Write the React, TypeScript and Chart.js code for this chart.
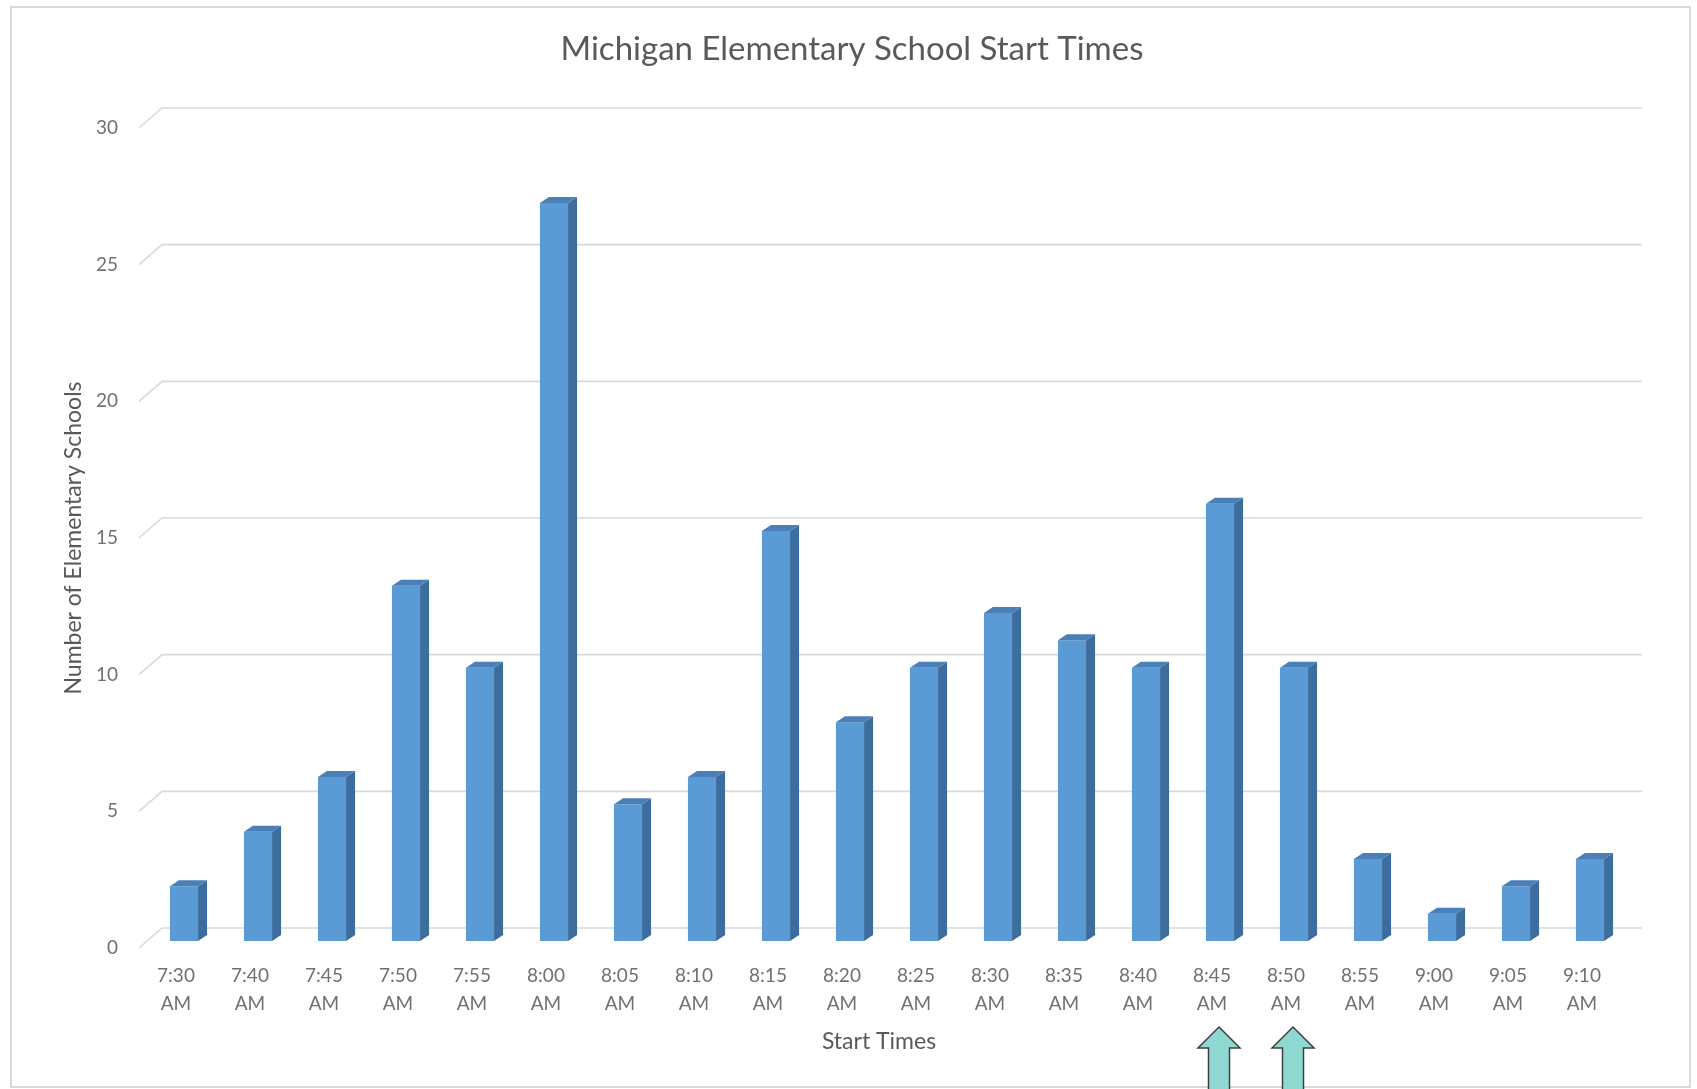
import React, { useEffect, useRef } from "react";
import { Chart, registerables } from "chart.js";

Chart.register(...registerables);

const startTimes = [
  "7:30 AM", "7:40 AM", "7:45 AM", "7:50 AM", "7:55 AM", "8:00 AM", "8:05 AM",
  "8:10 AM", "8:15 AM", "8:20 AM", "8:25 AM", "8:30 AM", "8:35 AM", "8:40 AM",
  "8:45 AM", "8:50 AM", "8:55 AM", "9:00 AM", "9:05 AM", "9:10 AM",
];
const schoolCounts = [2, 4, 6, 13, 10, 27, 5, 6, 15, 8, 10, 12, 11, 10, 16, 10, 3, 1, 2, 3];
const yTickValues = [0, 5, 10, 15, 20, 25, 30];
const highlightedTimes = ["8:45 AM", "8:50 AM"];

const chartTitle = "Michigan Elementary School Start Times";
const xTitle = "Start Times";
const yTitle = "Number of Elementary Schools";

const FONT = "Lato, 'Open Sans', sans-serif";

export default function App() {
  const ref = useRef<HTMLCanvasElement>(null);

  useEffect(() => {
    document.body.style.margin = "0";
    document.body.style.overflow = "hidden";
    const canvas = ref.current;
    if (!canvas) return;

    const floorDX = 23;
    const floorDY = 20;
    const barShiftX = 8;
    const barShiftY = 7;
    const barDX = 9;
    const barDY = 6;

    const excel3d = {
      id: "excel3d",
      beforeDraw(chart: any) {
        const ctx = chart.ctx;
        ctx.save();
        ctx.fillStyle = "#ffffff";
        ctx.fillRect(0, 0, chart.width, chart.height);
        ctx.strokeStyle = "#D9D9D9";
        ctx.lineWidth = 2;
        ctx.strokeRect(11, 7, 1679, 1080);
        ctx.fillStyle = "#595959";
        ctx.font = `33px ${FONT}`;
        ctx.textAlign = "center";
        ctx.textBaseline = "middle";
        ctx.fillText(chartTitle, 852, 49);
        ctx.restore();
      },
      beforeDatasetsDraw(chart: any) {
        const ctx = chart.ctx;
        const y = chart.scales.y;
        const { left, right } = chart.chartArea;
        ctx.save();
        ctx.strokeStyle = "#D9D9D9";
        ctx.lineWidth = 1.6;
        yTickValues.forEach((v) => {
          const py = y.getPixelForValue(v);
          ctx.beginPath();
          ctx.moveTo(left, py);
          ctx.lineTo(left + floorDX, py - floorDY);
          ctx.lineTo(right + floorDX, py - floorDY);
          ctx.stroke();
        });
        ctx.restore();
      },
      beforeDatasetDraw(chart: any) {
        chart.ctx.save();
        chart.ctx.translate(barShiftX, -barShiftY);
      },
      afterDatasetDraw(chart: any, args: any) {
        const ctx = chart.ctx;
        const meta = chart.getDatasetMeta(args.index);
        meta.data.forEach((bar: any) => {
          const { x, y, base, width } = bar.getProps(["x", "y", "base", "width"], true);
          const l = x - width / 2;
          const r = x + width / 2;
          ctx.fillStyle = "#3B6D9E";
          ctx.beginPath();
          ctx.moveTo(r, y);
          ctx.lineTo(r + barDX, y - barDY);
          ctx.lineTo(r + barDX, base - barDY);
          ctx.lineTo(r, base);
          ctx.closePath();
          ctx.fill();
          ctx.fillStyle = "#4A7FB7";
          ctx.beginPath();
          ctx.moveTo(l, y);
          ctx.lineTo(l + barDX, y - barDY);
          ctx.lineTo(r + barDX, y - barDY);
          ctx.lineTo(r, y);
          ctx.closePath();
          ctx.fill();
        });
        ctx.restore();
      },
      afterDraw(chart: any) {
        const ctx = chart.ctx;
        const xs = chart.scales.x;
        ctx.save();
        ctx.fillStyle = "#8ED8D1";
        ctx.strokeStyle = "#404040";
        ctx.lineWidth = 1.5;
        highlightedTimes.forEach((t) => {
          const i = startTimes.indexOf(t);
          const cx = xs.getPixelForValue(i) + 7;
          const tip = 1027;
          const headBase = 1048;
          const headHalf = 21;
          const shaftHalf = 10.5;
          const bottom = 1095;
          ctx.beginPath();
          ctx.moveTo(cx, tip);
          ctx.lineTo(cx + headHalf, headBase);
          ctx.lineTo(cx + shaftHalf, headBase);
          ctx.lineTo(cx + shaftHalf, bottom);
          ctx.lineTo(cx - shaftHalf, bottom);
          ctx.lineTo(cx - shaftHalf, headBase);
          ctx.lineTo(cx - headHalf, headBase);
          ctx.closePath();
          ctx.fill();
          ctx.stroke();
        });
        ctx.restore();
      },
    };

    const chart = new Chart(canvas, {
      type: "bar",
      data: {
        labels: startTimes,
        datasets: [
          {
            label: yTitle,
            data: schoolCounts,
            backgroundColor: "#5B9BD5",
            borderWidth: 0,
            categoryPercentage: 1,
            barPercentage: 0.38,
          },
        ],
      },
      options: {
        responsive: false,
        animation: false,
        events: [],
        layout: { padding: { left: 40, right: 78, top: 128, bottom: 0 } },
        plugins: {
          legend: { display: false },
          tooltip: { enabled: false },
          title: { display: false },
        },
        scales: {
          x: {
            grid: { display: false, drawTicks: false },
            border: { display: false },
            ticks: {
              color: "#707070",
              font: { family: FONT, size: 19, lineHeight: 28 / 19 },
              padding: 14,
              maxRotation: 0,
              autoSkip: false,
              callback: (_v: any, i: number) => startTimes[i].split(" "),
            },
            title: {
              display: true,
              text: xTitle,
              color: "#595959",
              font: { family: FONT, size: 23, lineHeight: 1.2 },
              padding: { top: 0, bottom: 34 },
            },
            afterFit: (scale: any) => {
              scale.height = 1089 - 948;
            },
          },
          y: {
            min: 0,
            max: 30,
            grid: { display: false, drawTicks: false },
            border: { display: false },
            ticks: {
              stepSize: 5,
              color: "#707070",
              font: { family: FONT, size: 19 },
              padding: 21,
            },
            title: {
              display: true,
              text: yTitle,
              color: "#595959",
              font: { family: FONT, size: 23, lineHeight: 1.2 },
              padding: { top: 19.8, bottom: 0 },
            },
            afterFit: (scale: any) => {
              scale.width = 139 - 40;
            },
          },
        },
      },
      plugins: [excel3d],
    });

    return () => chart.destroy();
  }, []);

  return <canvas ref={ref} width={1697} height={1089} style={{ display: "block" }} />;
}
